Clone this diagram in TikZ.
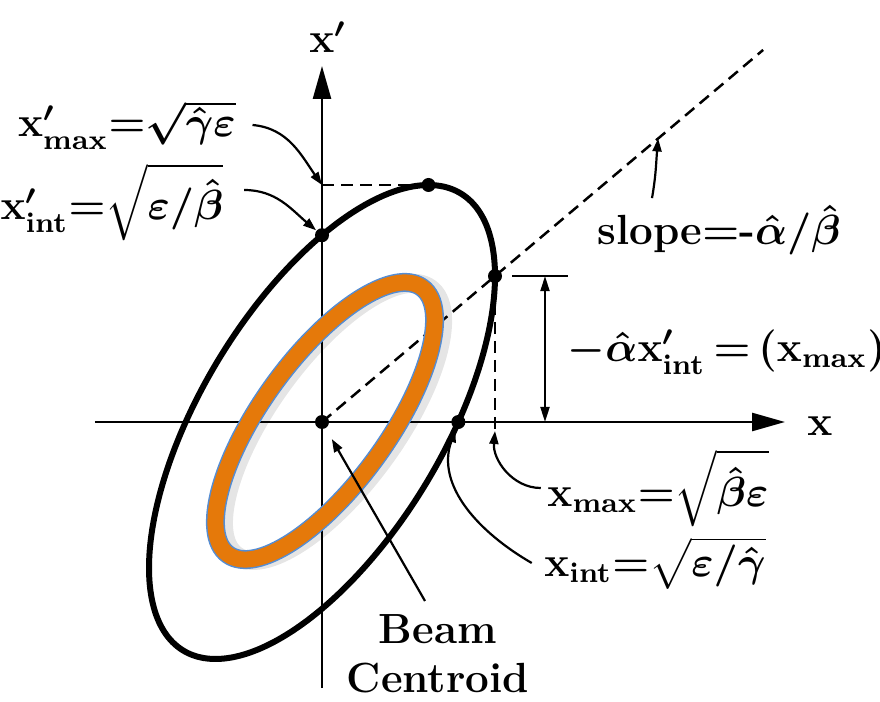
\documentclass[tikz,border=0pt]{standalone}
\usepackage{amsmath}
\usepackage{tikz}
\usetikzlibrary{arrows.meta,calc}
\definecolor{beamclr}{RGB}{229,121,10}
\definecolor{edgeclr}{RGB}{84,141,212}
\tikzset{
    axis/.style={line width=0.25mm,-{Triangle[length=3.3mm,width=1.8mm]}},
    orbit/.style={line width=0.6mm},
    guide/.style={line width=0.25mm,dash pattern=on 1.2mm off 0.7mm},
    ptr/.style={line width=0.22mm,-{Triangle[length=1.3mm,width=0.9mm]}},
    dim/.style={line width=0.2mm,{Triangle[length=1.5mm,width=0.9mm]}-{Triangle[length=1.5mm,width=0.9mm]}},
    dot/.style={circle,fill,inner sep=0pt,minimum size=1.4mm},
    lbl/.style={font=\bfseries\boldmath\fontsize{12}{14}\selectfont,inner sep=0pt},
    beamring/.style={rotate around={54:(3,1)}},
}

\begin{document}
\begin{tikzpicture}[x=0.1mm,y=0.1mm]
\useasboundingbox (-322,-279) rectangle (558,422);
% axes and the phase-space ellipse
\coordinate (O) at (0,0);
\coordinate (xl) at (-227,0);
\coordinate (xr) at (463,0);
\coordinate (yb) at (0,-266);
\coordinate (yt) at (0,356);
\draw[axis] (xl) -- (xr);
\draw[axis] (yb) -- (yt);
\node[lbl] (xlab) at (498,-4) {$\mathbf{x}$};
\node[lbl] (yplab) at (6,385) {$\mathbf{x}'$};

\draw[orbit] plot[domain=0:360,samples=120,smooth,variable=\t] ({173*cos(\t)},{237*cos(\t-52)});
\node[dot] (top)  at ({173*cos(52)},237) {};
\node[dot] (pint) at (0,{237*sin(52)}) {};
\node[dot] (pmax) at (173,{237*cos(52)}) {};
\node[dot] (xint) at ({173*sin(52)},0) {};
\node[dot] (ctr)  at (O) {};

\coordinate (topFoot) at (pint |- top);
\coordinate (sEnd) at ($(O)!2.55!(pmax)$);
\coordinate (sHit) at ($(O)!0.762!(sEnd)$);
\coordinate (pmaxFoot) at ($(pmax |- O)+(0,-9)$);
\draw[guide] (topFoot) -- (top);
\draw[guide] (O) -- (sEnd);
\draw[guide] (pmax) -- (pmaxFoot);

\coordinate (tickA) at (190,{237*cos(52)});
\coordinate (tickB) at (246,{237*cos(52)});
\coordinate (dimT) at (223,{237*cos(52)});
\coordinate (dimB) at (223,0);
\draw[line width=0.2mm] (tickA) -- (tickB);
\draw[dim] (dimT) -- (dimB);

\draw[line width=1.9mm,black,opacity=0.10,beamring] (7,-6) ellipse[x radius=16.5mm,y radius=6.3mm];
\draw[line width=1.9mm,edgeclr,beamring] (3,1) ellipse[x radius=16.5mm,y radius=6.3mm];
\draw[line width=1.6mm,beamclr,beamring] (3,1) ellipse[x radius=16.5mm,y radius=6.3mm];

\node[lbl] (xpmaxlab) at (-195,297) {$\mathbf{x}'_{\mathbf{max}}{=}\sqrt{\hat{\gamma}\varepsilon}$};
\node[lbl] (xpintlab) at (-210,220) {$\mathbf{x}'_{\mathbf{int}}{=}\sqrt{\varepsilon/\hat{\beta}}$};
\node[lbl] (slopelab) at (397,192) {slope${=}$-$\hat{\alpha}/\hat{\beta}$};
\node[lbl,anchor=west] (dimlab) at (245,70) {$-\hat{\alpha}\mathbf{x}'_{\mathbf{int}}\,{=}\,(\mathbf{x}_{\mathbf{max}})'$};
\node[lbl] (xmaxlab) at (336,-66) {$\mathbf{x}_{\mathbf{max}}{=}\sqrt{\hat{\beta}\varepsilon}$};
\node[lbl] (xintlab) at (333,-141) {$\mathbf{x}_{\mathbf{int}}{=}\sqrt{\varepsilon/\hat{\gamma}}$};
\node[lbl,align=center] (bclab) at (116,-232) {Beam\\Centroid};

\draw[ptr] ([xshift=1.6mm]xpmaxlab.east) to[out=-5,in=125] (topFoot);
\draw[ptr] ([xshift=2mm,yshift=1.2mm]xpintlab.east) to[out=0,in=140] (pint);
\draw[ptr] ([xshift=-6.7mm,yshift=0.6mm]slopelab.north) to[out=80,in=-95] (sHit);
\draw[ptr] ([xshift=-0.6mm]xmaxlab.west) to[out=180,in=-95] (pmaxFoot);
\draw[ptr] ([xshift=-1.2mm]xintlab.west) to[out=150,in=-110] (xint);
\draw[ptr,shorten >=1.2mm] ([xshift=-1.3mm,yshift=1.3mm]bclab.north) -- (ctr);
\end{tikzpicture}
\end{document}
